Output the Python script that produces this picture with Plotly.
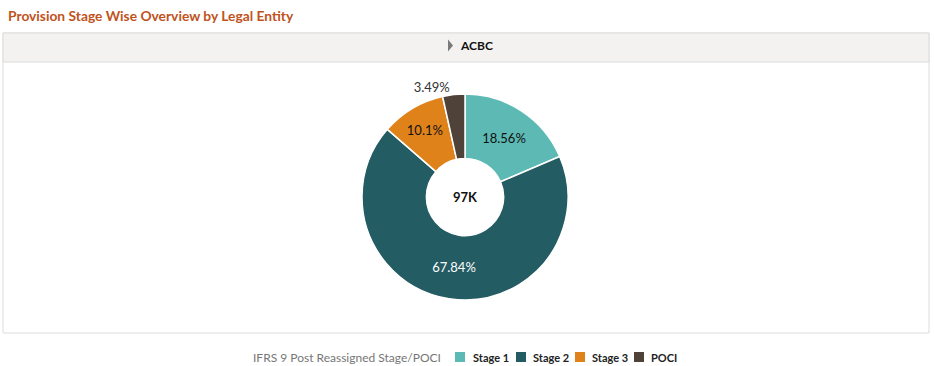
import plotly.graph_objects as go

W, H = 934, 366

# ---- data ----
stages = ["Stage 1", "Stage 2", "Stage 3", "POCI"]
shares = [18.56, 67.84, 10.1, 3.49]
colors = ["#5db9b4", "#245c63", "#e0821a", "#4f4239"]
text_colors = ["#111111", "#ffffff", "#111111", "#333333"]
entity = "ACBC"
total_label = "97K"
chart_title = "Provision Stage Wise Overview by Legal Entity"
legend_title = "IFRS 9 Post Reassigned Stage/POCI"

# legend layout (pixel positions of swatches / labels)
legend_swatch_x = [455, 516, 575, 634]
legend_text_x = [471, 531, 590, 649]


def px(x):
    return x / W


def py(y):
    return 1 - y / H


FONT = "Lato, 'Open Sans', sans-serif"

fig = go.Figure()
fig.add_trace(go.Pie(
    labels=stages,
    values=shares,
    sort=False,
    direction="clockwise",
    rotation=0,
    hole=0.375,
    marker=dict(colors=colors, line=dict(color="white", width=1.5)),
    texttemplate="%{value}%",
    textposition=["inside", "inside", "inside", "outside"],
    insidetextorientation="horizontal",
    textfont=dict(family=FONT, size=13, color=text_colors),
    domain=dict(x=[px(362), px(568)], y=[py(300), py(94)]),
    hoverinfo="label+value",
    showlegend=False,
))

shapes = [
    # outer panel
    dict(type="rect", xref="paper", yref="paper", x0=px(3), x1=px(929), y0=py(333), y1=py(33),
         line=dict(color="#dcdcdc", width=1), fillcolor="rgba(0,0,0,0)", layer="below"),
    # header band
    dict(type="rect", xref="paper", yref="paper", x0=px(3), x1=px(929), y0=py(62), y1=py(33),
         line=dict(color="#dcdcdc", width=1), fillcolor="#f3f2f1", layer="below"),
    # header triangle
    dict(type="path", xref="paper", yref="paper",
         path=f"M {px(448)} {py(39.5)} L {px(453)} {py(45.5)} L {px(448)} {py(51.5)} Z",
         fillcolor="#7a7a7a", line=dict(width=0)),
]

annotations = [
    dict(text=f"<b>{chart_title}</b>", x=px(6), y=py(15), xref="paper", yref="paper",
         xanchor="left", yanchor="middle", showarrow=False,
         font=dict(family=FONT, size=13.8, color="#c0531d")),
    dict(text=f"<b>{entity}</b>", x=px(458), y=py(45.5), xref="paper", yref="paper",
         xanchor="left", yanchor="middle", showarrow=False,
         font=dict(family=FONT, size=12, color="#111111")),
    dict(text=f"<b>{total_label}</b>", x=px(465), y=py(197), xref="paper", yref="paper",
         xanchor="center", yanchor="middle", showarrow=False,
         font=dict(family=FONT, size=13, color="#111111")),
    dict(text=legend_title, x=px(443), y=py(357), xref="paper", yref="paper",
         xanchor="right", yanchor="middle", showarrow=False,
         font=dict(family=FONT, size=12, color="#767676")),
]

for name, col, sx, tx in zip(stages, colors, legend_swatch_x, legend_text_x):
    shapes.append(dict(type="rect", xref="paper", yref="paper",
                       x0=px(sx), x1=px(sx + 10), y0=py(362), y1=py(352),
                       fillcolor=col, line=dict(width=0)))
    annotations.append(dict(text=f"<b>{name}</b>", x=px(tx), y=py(357), xref="paper", yref="paper",
                            xanchor="left", yanchor="middle", showarrow=False,
                            font=dict(family=FONT, size=11, color="#222222")))

fig.update_layout(
    width=W, height=H,
    margin=dict(l=0, r=0, t=0, b=0),
    paper_bgcolor="white",
    plot_bgcolor="white",
    shapes=shapes,
    annotations=annotations,
    showlegend=False,
    font=dict(family=FONT),
)

fig.write_html("out.html", config={"displayModeBar": False},
               post_script="document.body.style.margin='0px';")
